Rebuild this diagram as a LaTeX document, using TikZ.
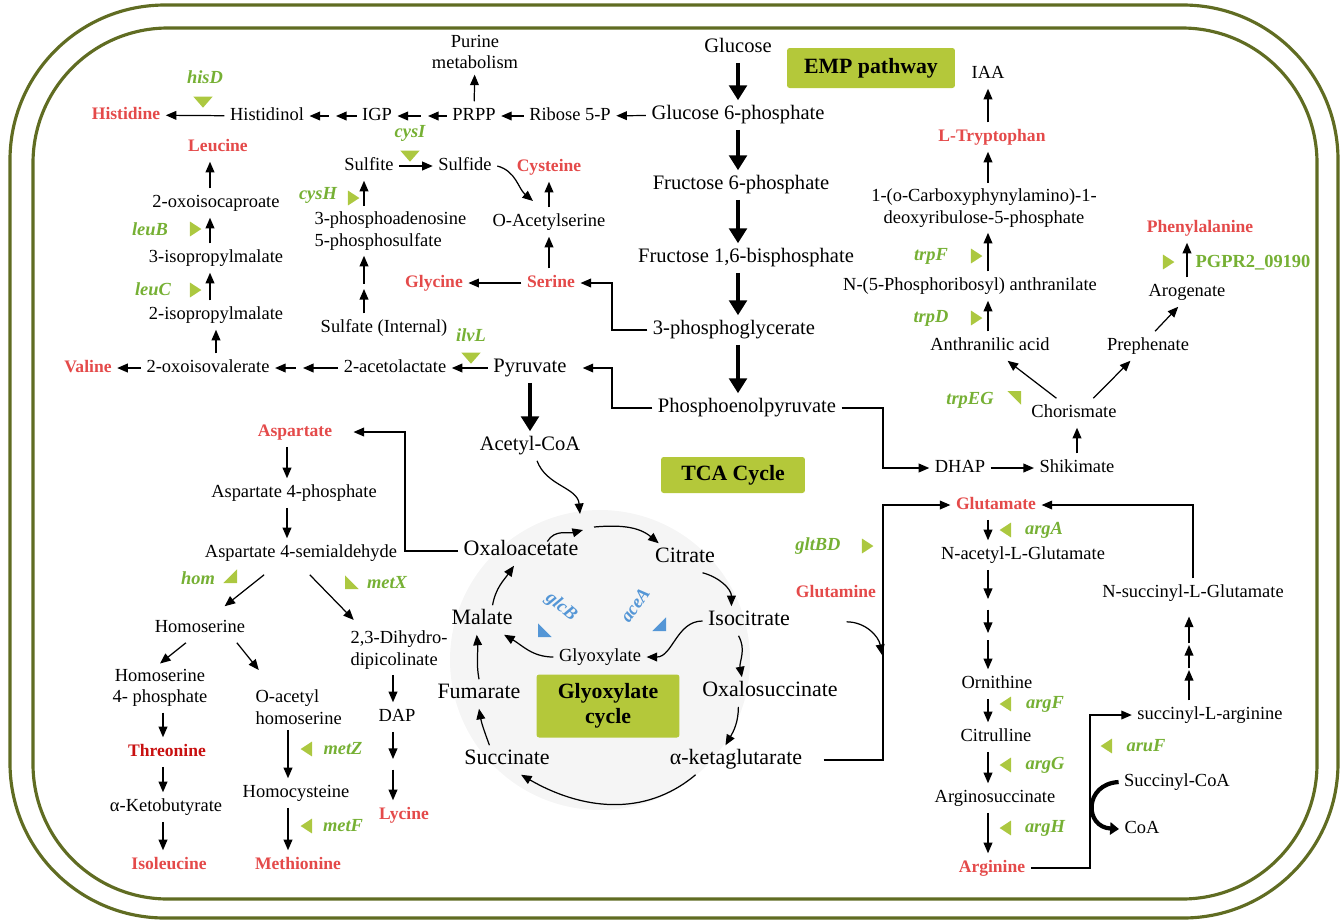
\documentclass[tikz,border=0pt]{standalone}
\usepackage{fontspec}
\setmainfont{Liberation Serif}
\usetikzlibrary{arrows.meta, positioning, calc, shapes.geometric}
\definecolor{cellolive}{RGB}{96, 108, 34}
\definecolor{boxgreen}{RGB}{180, 200, 58}
\definecolor{aared}{RGB}{228, 74, 74}
\definecolor{thrred}{RGB}{200, 16, 16}
\definecolor{genegreen}{RGB}{118, 176, 52}
\definecolor{trigreen}{RGB}{172, 200, 64}
\definecolor{enzblue}{RGB}{84, 150, 214}
\definecolor{cyclegray}{RGB}{245, 245, 245}
\newcommand{\fMet}{\fontsize{10.5}{12.3}\selectfont}
\newcommand{\fEmp}{\fontsize{11.7}{13}\selectfont}
\newcommand{\fTca}{\fontsize{12.5}{14}\selectfont}
\newcommand{\fAa}{\fontsize{10}{12}\selectfont\bfseries}
\newcommand{\fGene}{\fontsize{10.5}{12}\selectfont\bfseries\itshape}
\newcommand{\fBox}{\fontsize{12.4}{14.5}\selectfont\bfseries}

\begin{document}
\begin{tikzpicture}[x=0.02cm, y=-0.02cm,
  txt/.style={inner sep=3pt, text height=8pt, text depth=2.4pt},
  met/.style={txt, font=\fMet},
  mline/.style={inner sep=3pt, font=\fMet},
  emp/.style={txt, font=\fEmp},
  tca/.style={txt, font=\fTca},
  aa/.style={txt, font=\fAa, text=aared},
  gene/.style={font=\fGene, text=genegreen, inner sep=1pt},
  enz/.style={font=\fGene, text=enzblue, inner sep=1pt},
  lbl/.style={fill=boxgreen, font=\fBox, rounded corners=1.5pt, align=center, inner sep=0pt},
  stri/.style={isosceles triangle, isosceles triangle stretches, inner sep=0pt,
    minimum width=8.5pt, minimum height=6.5pt, fill=trigreen, rotate=#1},
  dtri/.style={stri=-90, minimum width=11pt, minimum height=6.3pt},
  ctri/.style={isosceles triangle, isosceles triangle stretches, inner sep=0pt,
    minimum width=11pt, minimum height=5.5pt, fill=trigreen, rotate=#1},
  arr/.style={-{Triangle[length=6pt, width=5pt]}, line width=0.7pt},
  bigarr/.style={-{Triangle[length=8.5pt, width=10pt]}, line width=2.8pt},
  coarr/.style={-{Triangle[length=5pt, width=7pt]}, line width=2.4pt}]

  \useasboundingbox (0,0) rectangle (1342,921);

  % --- cell envelope ---
  \draw[cellolive, line width=1.8pt, rounded corners=3.1cm] (10,5) rectangle (1338,918);
  \draw[cellolive, line width=1.8pt, rounded corners=2.7cm] (33,28) rectangle (1317,899);

  % --- shaded cycle area ---
  \fill[cyclegray] (600,660) circle[radius=3cm];

  % --- histidine, leucine, valine ---
  \node[gene] (hisD) at (205,77) {hisD};
  \node[dtri] (tHisD) at (203,101) {};
  \node[aa] (his) at (126,115) {Histidine};
  \node[met] (hol) at (267,116) {Histidinol};
  \node[met] (igp) at (377,116) {IGP};
  \node[met] (prpp) at (474,116) {PRPP};
  \node[met] (r5p) at (570,116) {Ribose 5-P};
  \node[mline, align=center] (pur) at (475,52) {Purine\\metabolism};
  \node[aa] (leu) at (218,147) {Leucine};
  \node[met] (oic) at (216,203) {2-oxoisocaproate};
  \node[gene] (leuB) at (150,229) {leuB};
  \node[stri=0] (tLeuB) at (194,229) {};
  \node[met] (ipm3) at (216,258) {3-isopropylmalate};
  \node[gene] (leuC) at (153,289) {leuC};
  \node[stri=0] (tLeuC) at (194,290) {};
  \node[met] (ipm2) at (216,315) {2-isopropylmalate};
  \node[met] (oiv) at (208,368) {2-oxoisovalerate};
  \node[aa] (val) at (88,368) {Valine};
  \node[met] (alac) at (395,368) {2-acetolactate};
  \node[gene] (ilvL) at (471,335) {ilvL};
  \node[dtri] (tIlvL) at (471,357) {};

  % --- sulfur assimilation ---
  \node[met] (sfi) at (369,166) {Sulfite};
  \node[met] (sfd) at (465,166) {Sulfide};
  \node[gene] (cysI) at (410,133) {cysI};
  \node[dtri] (tCysI) at (410,155) {};
  \node[aa] (cys) at (549,167) {Cysteine};
  \node[gene] (cysH) at (318,195) {cysH};
  \node[stri=0] (tCysH) at (352,198) {};
  \node[mline, align=left, anchor=west] (paps) at (309,231) {3-phosphoadenosine\\5-phosphosulfate};
  \node[met] (sfint) at (384,328) {Sulfate (Internal)};
  \node[met] (oas) at (549,222) {O-Acetylserine};
  \node[aa] (ser) at (551,283) {Serine};
  \node[aa] (gly) at (434,283) {Glycine};

  % --- EMP pathway ---
  \node[emp] (glc) at (738,48) {Glucose};
  \node[emp] (g6p) at (738,115) {Glucose 6-phosphate};
  \node[emp] (f6p) at (741,185) {Fructose 6-phosphate};
  \node[emp] (fbp) at (746,258) {Fructose 1,6-bisphosphate};
  \node[emp] (pga) at (734,330) {3-phosphoglycerate};
  \node[emp] (pep) at (747,408) {Phosphoenolpyruvate};
  \node[emp] (pyr) at (530,368) {Pyruvate};
  \node[emp] (acoa) at (530,446) {Acetyl-CoA};
  \node[lbl, minimum width=3.36cm, minimum height=0.8cm] (empLbl) at (871,68) {EMP pathway};
  \node[lbl, minimum width=2.88cm, minimum height=0.72cm] (tcaLbl) at (733,475) {TCA Cycle};

  % --- tryptophan, phenylalanine ---
  \node[met] (iaa) at (988,74) {IAA};
  \node[aa] (trp) at (992,137) {L-Tryptophan};
  \node[mline, align=center] (cdrp) at (984,208) {1-(o-Carboxyphynylamino)-1-\\deoxyribulose-5-phosphate};
  \node[gene] (trpF) at (931,256) {trpF};
  \node[stri=0] (tTrpF) at (975,256) {};
  \node[met] (pra) at (970,286) {N-(5-Phosphoribosyl) anthranilate};
  \node[gene] (trpD) at (931,318) {trpD};
  \node[stri=0] (tTrpD) at (975,318) {};
  \node[met] (ant) at (990,346) {Anthranilic acid};
  \node[met] (chor) at (1074,413) {Chorismate};
  \node[met] (pphn) at (1148,346) {Prephenate};
  \node[met] (agn) at (1187,292) {Arogenate};
  \node[aa] (phe) at (1200,228) {Phenylalanine};
  \node[gene, font=\fontsize{10.5}{12}\selectfont\bfseries] (pgpr) at (1253,263) {PGPR2\_09190};
  \node[stri=0] (tPgpr) at (1167,262) {};
  \node[gene] (trpEG) at (970,400) {trpEG};
  \node[ctri=45] (tTrpEG) at (1017,395) {};
  \node[met] (dhap) at (960,468) {DHAP};
  \node[met] (skm) at (1077,468) {Shikimate};

  % --- glutamate, arginine ---
  \node[aa] (glu) at (996,505) {Glutamate};
  \node[stri=180] (tArgA) at (1007,530) {};
  \node[gene] (argA) at (1044,530) {argA};
  \node[met] (nag) at (1023,555) {N-acetyl-L-Glutamate};
  \node[met] (orn) at (997,684) {Ornithine};
  \node[stri=180] (tArgF) at (1007,704) {};
  \node[gene] (argF) at (1045,704) {argF};
  \node[met] (citl) at (996,737) {Citrulline};
  \node[stri=180] (tArgG) at (1007,765) {};
  \node[gene] (argG) at (1045,765) {argG};
  \node[met] (asuc) at (995,798) {Arginosuccinate};
  \node[stri=180] (tArgH) at (1007,828) {};
  \node[gene] (argH) at (1045,828) {argH};
  \node[aa] (arg) at (992,868) {Arginine};
  \node[met] (sarg) at (1210,715) {succinyl-L-arginine};
  \node[stri=180] (tAruF) at (1108,746) {};
  \node[gene] (aruF) at (1146,746) {aruF};
  \node[met] (scoa) at (1177,782) {Succinyl-CoA};
  \node[met] (coa) at (1142,829) {CoA};
  \node[met] (nsg) at (1193,593) {N-succinyl-L-Glutamate};
  \node[gene] (gltBD) at (818,546) {gltBD};
  \node[stri=0] (tGltBD) at (866,546) {};
  \node[aa] (gln) at (836,593) {Glutamine};

  % --- TCA and glyoxylate cycle ---
  \node[tca] (oaa) at (521,551) {Oxaloacetate};
  \node[tca] (citr) at (685,558) {Citrate};
  \node[tca] (icit) at (749,621) {Isocitrate};
  \node[tca] (oxs) at (770,692) {Oxalosuccinate};
  \node[tca] (akg) at (736,760) {α-ketaglutarate};
  \node[tca] (succ) at (507,760) {Succinate};
  \node[tca] (fum) at (479,694) {Fumarate};
  \node[tca] (mal) at (482,620) {Malate};
  \node[met] (glx) at (600,657) {Glyoxylate};
  \node[lbl, minimum width=2.86cm, minimum height=1.26cm] (glxLbl) at (608,706) {Glyoxylate\\cycle};
  \node[enz, rotate=-40] (glcB) at (561,607) {glcB};
  \node[ctri=-135, fill=enzblue] (tGlcB) at (542,633) {};
  \node[enz, rotate=55] (aceA) at (635,605) {aceA};
  \node[ctri=-45, fill=enzblue] (tAceA) at (662,627) {};

  % --- aspartate family ---
  \node[aa] (asp) at (295,432) {Aspartate};
  \node[met] (asp4p) at (294,493) {Aspartate 4-phosphate};
  \node[met] (asa) at (301,553) {Aspartate 4-semialdehyde};
  \node[gene] (hom) at (198,578) {hom};
  \node[ctri=-45] (tHom) at (233,579) {};
  \node[ctri=-135] (tMetX) at (349,585) {};
  \node[gene] (metX) at (387,583) {metX};
  \node[met] (hse) at (200,628) {Homoserine};
  \node[mline, align=center] (hsp) at (160,688) {Homoserine\\4- phosphate};
  \node[mline, align=left, anchor=west] (oah) at (250,707) {O-acetyl\\homoserine};
  \node[mline, align=left, anchor=west] (dhdp) at (345,650) {2,3-Dihydro-\\dipicolinate};
  \node[met] (dap) at (397,717) {DAP};
  \node[aa] (lys) at (404,815) {Lycine};
  \node[aa, text=thrred] (thr) at (167,752) {Threonine};
  \node[met] (akb) at (166,807) {α-Ketobutyrate};
  \node[aa] (ile) at (169,865) {Isoleucine};
  \node[stri=180] (tMetZ) at (308,749) {};
  \node[gene] (metZ) at (343,749) {metZ};
  \node[met] (hcy) at (296,793) {Homocysteine};
  \node[stri=180] (tMetF) at (308,826) {};
  \node[gene] (metF) at (343,826) {metF};
  \node[aa] (metn) at (298,865) {Methionine};

  % --- column helpers ---
  \coordinate (leux) at (210,0);
  \coordinate (sx) at (364,0);
  \coordinate (argx) at (988,0);
  \coordinate (aspx) at (287,0);
  \coordinate (thrx) at (163,0);
  \coordinate (metx) at (288,0);
  \coordinate (dapx) at (393,0);

  % --- histidine / leucine / valine arrows ---
  \draw[arr] (hol) -- (his);
  \coordinate (hq1) at (336,116);
  \draw[arr] (igp) -- (hq1);
  \draw[arr, shorten <=4pt] (hq1) -- (hol);
  \coordinate (hq2) at (428,116);
  \draw[arr] (prpp) -- (hq2);
  \draw[arr, shorten <=4pt] (hq2) -- (igp);
  \draw[arr] (r5p) -- (prpp);
  \draw[arr] (g6p) -- (r5p);
  \draw[arr] (prpp) -- (pur);
  \draw[arr] (oiv) -- (val);
  \draw[arr] (oiv.north -| ipm2) -- (ipm2.south);
  \draw[arr] (ipm2.north -| leux) -- (ipm3.south -| leux);
  \draw[arr] (ipm3.north -| leux) -- (oic.south -| leux);
  \draw[arr] (oic.north -| leux) -- (leu.south -| leux);
  \coordinate (vq) at (303,368);
  \draw[arr] (alac) -- (vq);
  \draw[arr, shorten <=4pt] (vq) -- (oiv);
  \draw[arr] (pyr) -- (alac);

  % --- sulfur arrows ---
  \draw[arr] (sfi) -- (sfd);
  \coordinate (oasin) at (533,201);
  \draw[arr] (sfd.east) to[out=-15, in=140] (oasin);
  \draw[arr] (oas) -- (cys);
  \draw[arr] (ser.north -| oas) -- (oas.south);
  \draw[arr] (ser) -- (gly);
  \coordinate (kser) at (612,330);
  \draw[arr] (pga.west) -- (kser) |- (ser.east);
  \draw[arr] (paps.north -| sx) -- (sfi.south -| sx);
  \coordinate (sq) at (364,289);
  \draw[arr] (sfint.north -| sq) -- (sq);
  \draw[arr, shorten <=3pt] (sq) -- (paps.south -| sq);

  % --- EMP arrows ---
  \draw[bigarr] (glc) -- (g6p);
  \draw[bigarr] (g6p.south) -- (f6p.north -| g6p);
  \draw[bigarr] (f6p.south -| g6p) -- (fbp.north -| g6p);
  \draw[bigarr] (fbp.south -| g6p) -- (pga.north -| g6p);
  \draw[bigarr] (pga.south -| g6p) -- (pep.north -| g6p);
  \draw[bigarr] (pyr) -- (acoa);
  \coordinate (kpyr) at (612,408);
  \draw[arr, shorten >=6pt] (pep.west) -- (kpyr) |- (pyr.east);
  \coordinate (kdhap) at (883,408);
  \draw[arr] (pep.east) -- (kdhap) |- (dhap.west);

  % --- aromatic arrows ---
  \draw[arr] (trp.north -| iaa) -- (iaa.south);
  \draw[arr] (cdrp.north -| iaa) -- (trp.south -| iaa);
  \draw[arr] (pra.north -| iaa) -- (cdrp.south -| iaa);
  \draw[arr] (ant.north -| iaa) -- (pra.south -| iaa);
  \draw[arr] ([xshift=-10pt]chor.north) -- ([xshift=10pt]ant.south);
  \draw[arr] ([xshift=11pt]chor.north) -- ([xshift=-10pt]pphn.south);
  \draw[arr] ([xshift=4pt]pphn.north) -- ([xshift=-5pt]agn.south);
  \draw[arr] (agn.north) -- (phe.south -| agn);
  \draw[arr] (dhap) -- (skm);
  \draw[arr] (skm.north) -- (chor.south -| skm);

  % --- glutamate / arginine arrows ---
  \draw[arr] (glu.south -| argx) -- (nag.north -| argx);
  \coordinate (nq1) at (988,599);
  \coordinate (nq2) at (988,633);
  \draw[arr] (nag.south -| argx) -- (nq1);
  \draw[arr, shorten <=6pt] (nq1) -- (nq2);
  \draw[arr, shorten <=4pt] (nq2) -- (orn.north -| argx);
  \draw[arr] (orn.south -| argx) -- (citl.north -| argx);
  \draw[arr] (citl.south -| argx) -- (asuc.north -| argx);
  \draw[arr] (asuc.south -| argx) -- (arg.north -| argx);
  \coordinate (karg) at (1090,868);
  \draw[arr] (arg.east) -- (karg) |- (sarg.west);
  \coordinate (uq1) at (1189,670);
  \coordinate (uq2) at (1189,645);
  \draw[arr] (sarg.north -| uq1) -- (uq1);
  \draw[arr, shorten <=1pt] (uq1) -- (uq2);
  \draw[arr, shorten <=1pt, shorten >=5pt] (uq2) -- (nsg.south -| uq1);
  \draw[arr] (nsg.north) |- (glu.east);
  \draw[coarr] (scoa.west) .. controls (1084,784) and (1084,827) .. (coa.west);
  \coordinate (kglu) at (883,760);
  \draw[arr, shorten <=9pt] (akg.east) -- (kglu) |- (glu.west);
  \coordinate (glnin) at (882,655);
  \draw[arr] ([shift={(6pt,-8pt)}]gln.south) to[out=0, in=100] (glnin);

  % --- TCA / glyoxylate arrows ---
  \coordinate (tcaJ) at (580,514);
  \coordinate (tcaL) at (583,530);
  \coordinate (tcaR) at (594,527);
  \draw[arr] ([xshift=4pt]acoa.south) to[out=-70, in=95] (tcaJ);
  \draw[arr] ([shift={(15pt,-3pt)}]oaa.north) to[out=60, in=195] (tcaL);
  \draw[arr] (tcaR) to[out=5, in=140] ([xshift=-15pt]citr.north);
  \draw[arr] ([xshift=10pt]citr.south) to[out=-15, in=90] ([xshift=-10pt]icit.north);
  \draw[arr] ([xshift=-6pt]icit.south) to[out=-60, in=100] ([xshift=-16pt]oxs.north);
  \draw[arr] ([xshift=-18pt]oxs.south) to[out=-90, in=60] ([xshift=-6pt]akg.north);
  \draw[arr] ([xshift=-23pt]akg.south) to[out=-140, in=-30] ([xshift=8pt]succ.south);
  \draw[arr] ([xshift=-10pt]succ.north) to[out=110, in=-80] (fum.south);
  \draw[arr] (fum.north) to[out=100, in=-85] ([xshift=-3pt]mal.south);
  \draw[arr] ([xshift=6pt]mal.north) to[out=80, in=-125] ([xshift=-4pt]oaa.south);
  \draw[arr] (icit.west) to[out=180, in=0] (glx.east);
  \draw[arr] (glx.west) to[out=180, in=-30] ([xshift=-8pt]mal.south east);
  \coordinate (kasp) at (405,551);
  \draw[arr, shorten >=9pt] (oaa.west) -- (kasp) |- (asp.east);

  % --- aspartate family arrows ---
  \draw[arr] (asp.south -| aspx) -- (asp4p.north -| aspx);
  \draw[arr] (asp4p.south -| aspx) -- (asa.north -| aspx);
  \draw[arr] ([shift={(-21pt,-4pt)}]asa.south) -- ([shift={(14pt,4pt)}]hse.north);
  \draw[arr] ([shift={(5pt,-4pt)}]asa.south) -- ([shift={(5pt,3pt)}]dhdp.north west);
  \draw[arr] ([xshift=-8pt]hse.south) -- (hsp.north);
  \draw[arr] ([xshift=21pt]hse.south) -- ([shift={(5pt,8pt)}]oah.north west);
  \draw[arr] (hsp.south -| thrx) -- (thr.north -| thrx);
  \draw[arr] (thr.south -| thrx) -- (akb.north -| thrx);
  \draw[arr] (akb.south -| thrx) -- (ile.north -| thrx);
  \draw[arr] (oah.south -| metx) -- (hcy.north -| metx);
  \draw[arr] (hcy.south -| metx) -- (metn.north -| metx);
  \draw[arr] (dhdp.south -| dapx) -- (dap.north -| dapx);
  \coordinate (lq) at (393,759);
  \draw[arr] (dap.south -| lq) -- (lq);
  \draw[arr, shorten <=6pt] (lq) -- (lys.north -| lq);

\end{tikzpicture}
\end{document}
